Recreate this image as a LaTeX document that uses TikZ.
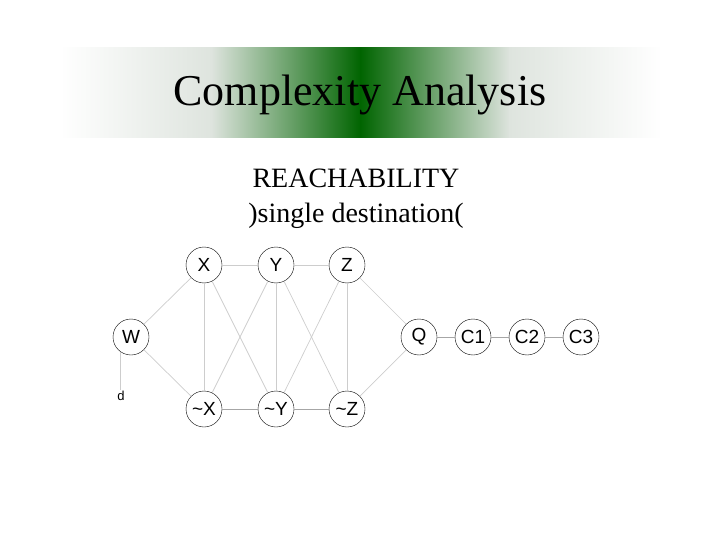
\documentclass[tikz,border=0pt]{standalone}
\usepackage{fontspec}
\setmainfont{Liberation Serif}
\newfontfamily\arialfont{Liberation Sans}
\definecolor{bannergreen}{RGB}{0,100,0}
\definecolor{bannerpale}{RGB}{222,228,222}
\definecolor{bannermid}{RGB}{125,148,125}
\definecolor{edgegray}{RGB}{205,205,205}
\begin{document}
\begin{tikzpicture}[x=1pt,y=-1pt,
    every node/.append style={font=\arialfont\fontsize{19}{21}\selectfont},
    vertex/.style={draw,circle,minimum size=36pt,inner sep=0pt},
    edge/.style={draw=edgegray,line width=0.7pt}]
    \useasboundingbox (0,0) rectangle (720,540);
    % banner
    \shade[left color=white,right color=bannerpale] (60,48) rectangle (212,138);
    \shade[left color=bannerpale,middle color=bannermid,right color=bannergreen] (211,48) rectangle (361,138);
    \shade[left color=bannergreen,middle color=bannermid,right color=bannerpale] (360,48) rectangle (510,138);
    \shade[left color=bannerpale,right color=white] (509,48) rectangle (662,138);
    \node[font=\fontsize{44}{48}\selectfont] (title) at (360,95) {Complexity Analysis};
    \node[font=\fontsize{28}{32}\selectfont] (sub1) at (356,178) {REACHABILITY};
    \node[font=\fontsize{28}{32}\selectfont] (sub2) at (356,216) {)single destination(};
    % graph
    \node[vertex] (X) at (204,265) {X};
    \node[vertex] (Y) at (276,265) {Y};
    \node[vertex] (Z) at (347,265) {Z};
    \node[vertex] (W) at (131,337) {W};
    \node[vertex] (nX) at (204,409) {\textasciitilde X};
    \node[vertex] (nY) at (276,409) {\textasciitilde Y};
    \node[vertex] (nZ) at (347,409) {\textasciitilde Z};
    \node[vertex] (Q) at (419,337) {Q};
    \node[vertex] (C1) at (473,337) {C1};
    \node[vertex] (C2) at (527,337) {C2};
    \node[vertex] (C3) at (581,337) {C3};
    \node[font=\arialfont\fontsize{13}{14}\selectfont,inner sep=1pt] (d) at (121,396) {d};
    \draw[edge] (W) -- (X);
    \draw[edge] (W) -- (nX);
    \draw[edge] (W.236) -- (W.236 |- d.north);
    \draw[edge] (X) -- (Y);
    \draw[edge] (Y) -- (Z);
    \draw[edge] (X) -- (nX);
    \draw[edge] (Y) -- (nY);
    \draw[edge] (Z) -- (nZ);
    \draw[edge] (X) -- (nY);
    \draw[edge] (Y) -- (nX);
    \draw[edge] (Y) -- (nZ);
    \draw[edge] (Z) -- (nY);
    \draw[edge,draw=gray!70] (nX) -- (nY);
    \draw[edge,draw=gray!70] (nY) -- (nZ);
    \draw[edge] (Z) -- (Q);
    \draw[edge] (nZ) -- (Q);
    \draw[edge,draw=gray!70] (Q) -- (C1);
    \draw[edge,draw=gray!70] (C1) -- (C2);
    \draw[edge,draw=gray!70] (C2) -- (C3);
\end{tikzpicture}
\end{document}
